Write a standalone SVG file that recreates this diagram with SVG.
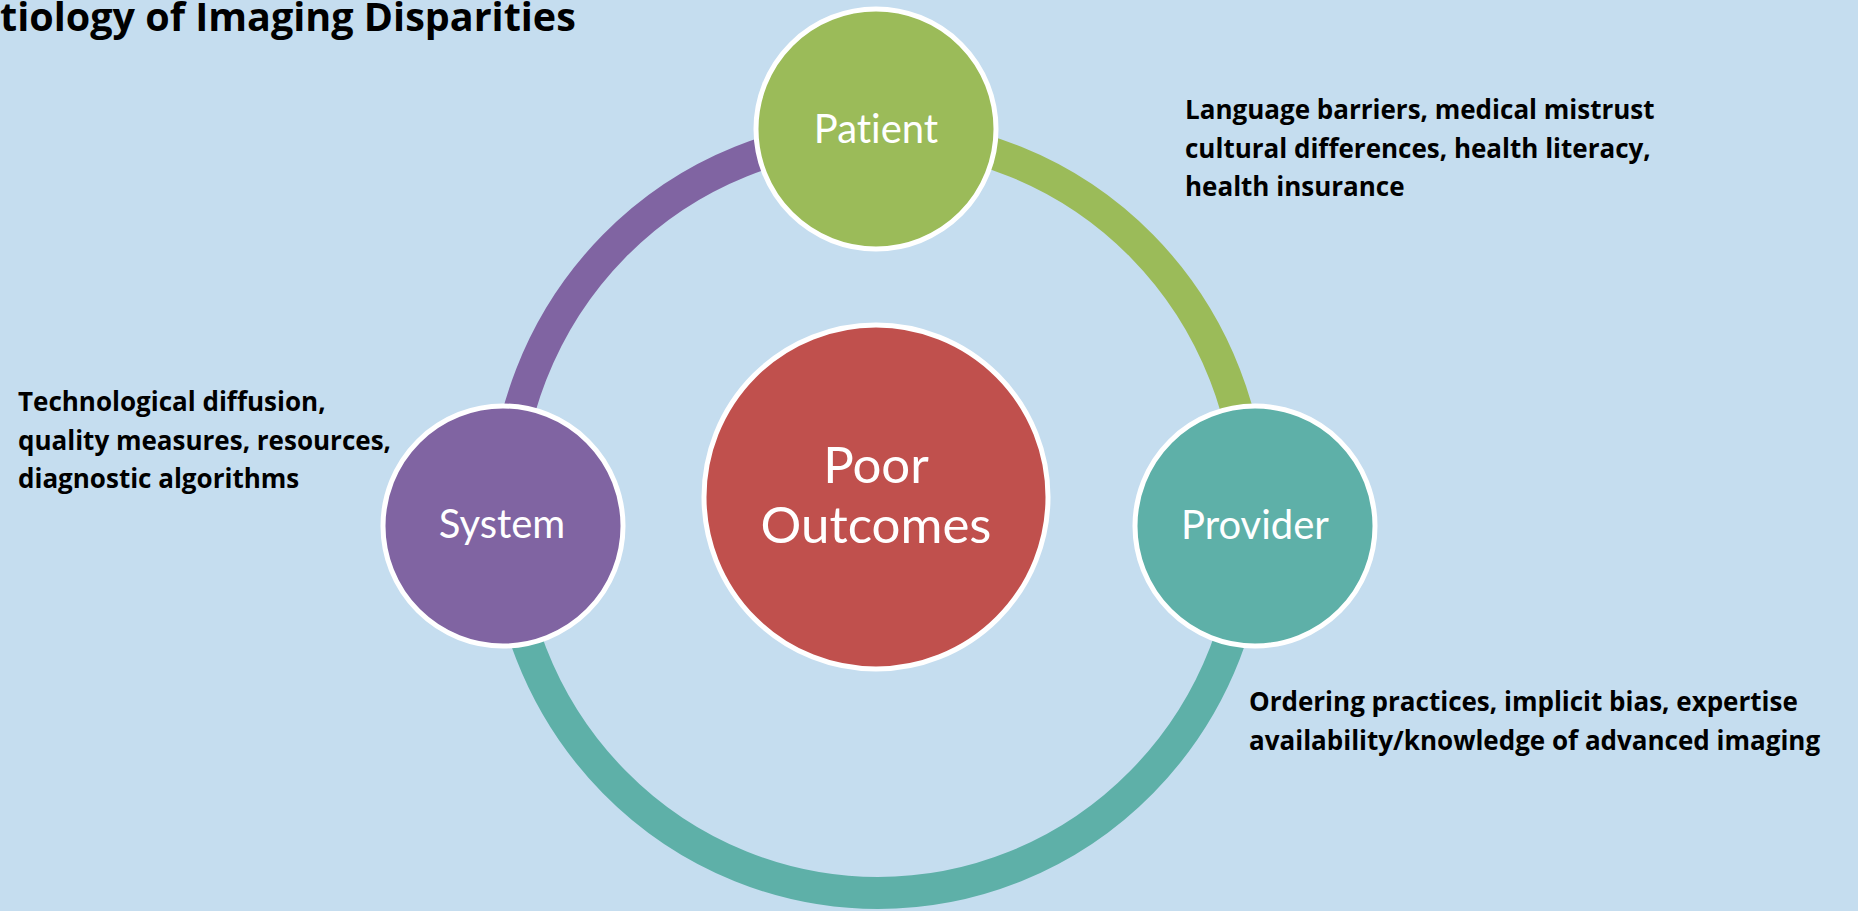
<svg xmlns="http://www.w3.org/2000/svg" width="1858" height="911" viewBox="0 0 1858 911">
<style>
text{font-variant-ligatures:none;font-feature-settings:"liga" 0,"clig" 0}
.ring{fill:none;stroke-width:32}
.node{stroke:#FFFFFF;stroke-width:5}
.lbl{font-family:Lato,"Open Sans","Liberation Sans",sans-serif;fill:#FFFFFF;text-anchor:middle}
.note{font-family:"Open Sans","Liberation Sans",sans-serif;font-weight:bold;font-size:26px;fill:#000000}
</style>
<rect x="0" y="0" width="1858" height="911" fill="#C5DDEF"/>
<text x="0" y="31" font-family="'Open Sans','Liberation Sans',sans-serif" font-weight="bold" font-size="39.5" fill="#000000">tiology of Imaging Disparities</text>
<g id="connectors">
<path class="ring" stroke="#8064A2" d="M505,514 A373,379 0 0,1 878,135"/>
<path class="ring" stroke="#9BBB59" d="M878,135 A373,379 0 0,1 1251,514"/>
<path class="ring" stroke="#5EB0A8" d="M1251,514 A373,379 0 0,1 878,893 A373,379 0 0,1 505,514"/>
</g>
<g id="node-outcomes">
<circle class="node" cx="876" cy="497" r="172" fill="#C0504D"/>
<text class="lbl" x="876" y="483" font-size="51">Poor</text>
<text class="lbl" x="876" y="543" font-size="51">Outcomes</text>
</g>
<g id="node-patient">
<circle class="node" cx="876" cy="129" r="120" fill="#9BBB59"/>
<text class="lbl" x="876" y="143" font-size="40">Patient</text>
</g>
<g id="node-system">
<circle class="node" cx="503" cy="526" r="120" fill="#8064A2"/>
<text class="lbl" x="502" y="538" font-size="40">System</text>
</g>
<g id="node-provider">
<circle class="node" cx="1255" cy="526" r="120" fill="#5EB0A8"/>
<text class="lbl" x="1255" y="539" font-size="40">Provider</text>
</g>
<g id="note-patient">
<text class="note" x="1185" y="119">Language barriers, medical mistrust</text>
<text class="note" x="1185" y="157.5">cultural differences, health literacy,</text>
<text class="note" x="1185" y="196">health insurance</text>
</g>
<g id="note-system">
<text class="note" x="18" y="411">Technological diffusion,</text>
<text class="note" x="18" y="449.5">quality measures, resources,</text>
<text class="note" x="18" y="488">diagnostic algorithms</text>
</g>
<g id="note-provider">
<text class="note" x="1249" y="711" font-size="26.3">Ordering practices, implicit bias, expertise</text>
<text class="note" x="1249" y="750" font-size="26.3">availability/knowledge of advanced imaging</text>
</g>
</svg>
